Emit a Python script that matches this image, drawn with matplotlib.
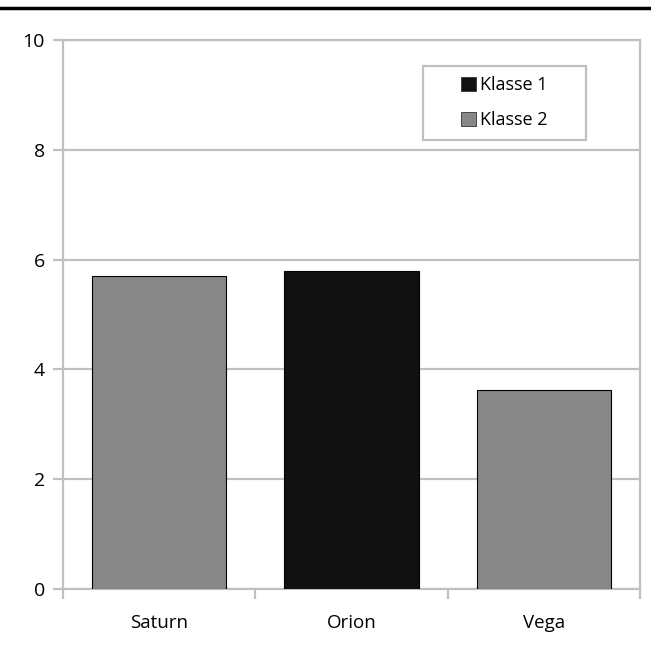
import matplotlib.pyplot as plt
from matplotlib.lines import Line2D
from matplotlib.patches import Patch, Rectangle

plt.rcParams['font.family'] = ['Open Sans', 'DejaVu Sans']

categories = ['Saturn', 'Orion', 'Vega']
values = [5.70, 5.79, 3.62]
klasse = [2, 1, 2]
class_colors = {1: '#111111', 2: '#878787'}
y_ticks = [0, 2, 4, 6, 8, 10]

axis_grey = '#c0c0c0'

fig = plt.figure(figsize=(6.51, 6.46), dpi=100)
ax = fig.add_axes([63 / 651, 1 - 589 / 646, 577 / 651, 549 / 646])

# heavy rule across the top of the figure
fig.add_artist(Line2D([0, 1], [1 - 8 / 646] * 2, color='black', lw=2.5,
                      transform=fig.transFigure))

xs = list(range(len(categories)))
ax.bar(xs, values, width=0.7, color=[class_colors[k] for k in klasse],
       edgecolor='black', linewidth=0.8, zorder=3)

ax.set_xlim(-0.5, len(categories) - 0.5)
ax.set_ylim(0, 10)
ax.set_yticks(y_ticks)
ax.yaxis.grid(True, color=axis_grey, lw=1.6, zorder=0)
ax.set_axisbelow(True)

# category labels sit between the boundary ticks
ax.set_xticks([-0.5, 0.5, 1.5, 2.5])
ax.set_xticklabels([])
ax.set_xticks(xs, minor=True)
ax.set_xticklabels(categories, minor=True)
ax.tick_params(axis='x', which='minor', length=0, pad=18, labelsize=13.5)
ax.tick_params(axis='x', which='major', length=7, width=1.6, color=axis_grey)
ax.tick_params(axis='y', length=7, width=1.6, color=axis_grey, pad=6,
               labelsize=14)

for side in ['left', 'right', 'top', 'bottom']:
    ax.spines[side].set_color(axis_grey)
    ax.spines[side].set_linewidth(1.6)

# legend box, with the entries centred inside it
box = (0.624, 0.818, 0.282, 0.135)
ax.add_patch(Rectangle(box[:2], box[2], box[3], transform=ax.transAxes,
                       facecolor='white', edgecolor=axis_grey, lw=1.6,
                       zorder=5))
handles = [Patch(facecolor=class_colors[1], edgecolor='#333333', lw=0.6),
           Patch(facecolor=class_colors[2], edgecolor='#333333', lw=0.6)]
leg = ax.legend(handles, ['Klasse 1', 'Klasse 2'], loc='center',
                bbox_to_anchor=(box[0] + box[2] / 2, box[1] + box[3] / 2),
                fontsize=13, handlelength=0.8, handleheight=0.8,
                handletextpad=0.25, labelspacing=0.95, borderpad=0,
                frameon=False)
leg.set_zorder(6)

fig.savefig('out.png', dpi=100)
